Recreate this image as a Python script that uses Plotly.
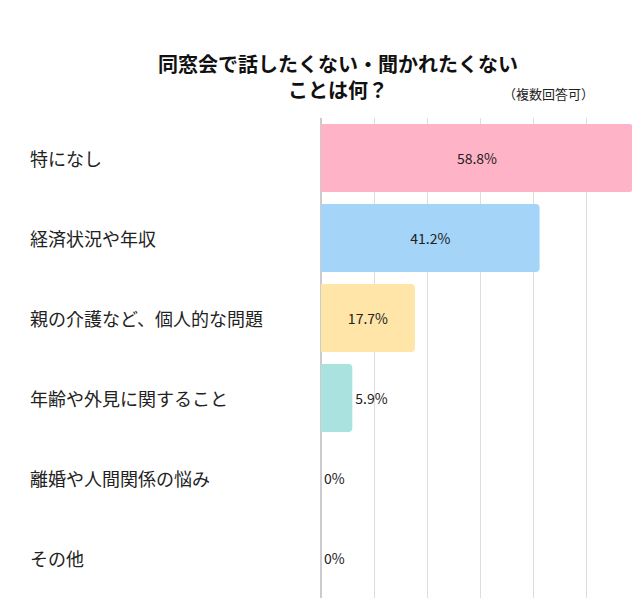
import plotly.graph_objects as go

categories = ["特になし", "経済状況や年収", "親の介護など、個人的な問題",
              "年齢や外見に関すること", "離婚や人間関係の悩み", "その他"]
values = [58.8, 41.2, 17.7, 5.9, 0, 0]
colors = ["#FFB3C6", "#A4D4F7", "#FFE5A8", "#A9E2DE", "#FFFFFF", "#FFFFFF"]

FONT = "Noto Sans CJK JP"

fig = go.Figure()
fig.add_trace(go.Bar(
    y=categories, x=values, orientation="h",
    marker=dict(color=colors, line=dict(width=0), cornerradius=4),
    width=0.85,
    text=[f"{v:g}%" for v in values],
    textposition=["inside", "inside", "inside", "outside", "outside", "outside"],
    insidetextanchor="middle",
    textfont=dict(family=FONT, size=14, color="#222"),
    cliponaxis=False,
    hoverinfo="skip",
))

# category labels, left-aligned at the left edge of the picture
for c in categories:
    fig.add_annotation(x=-0.94, xref="paper", y=c, yref="y", text=c,
                       showarrow=False, xanchor="left",
                       font=dict(family=FONT, size=18, color="#222"))

fig.add_annotation(x=0.054, y=1.025, xref="paper", yref="paper",
                   text="<b>同窓会で話したくない・聞かれたくない<br>ことは何？</b>",
                   showarrow=False, xanchor="center", yanchor="bottom",
                   font=dict(family=FONT, size=20, color="#111"))
fig.add_annotation(x=0.73, y=1.052, xref="paper", yref="paper",
                   text="（複数回答可）", showarrow=False,
                   xanchor="center", yanchor="middle",
                   font=dict(family=FONT, size=13, color="#222"))

fig.update_layout(
    width=640, height=612,
    paper_bgcolor="white", plot_bgcolor="white",
    margin=dict(l=313, r=15, t=110, b=22),
    showlegend=False,
    xaxis=dict(range=[0, 58.8], dtick=10, showgrid=True, gridcolor="#dddddd",
               showticklabels=False, zeroline=True, zerolinecolor="#cccccc",
               fixedrange=True),
    yaxis=dict(autorange=False, range=[5.5, -0.5], showticklabels=False,
               showgrid=False),
)

fig.write_html("out.html")
